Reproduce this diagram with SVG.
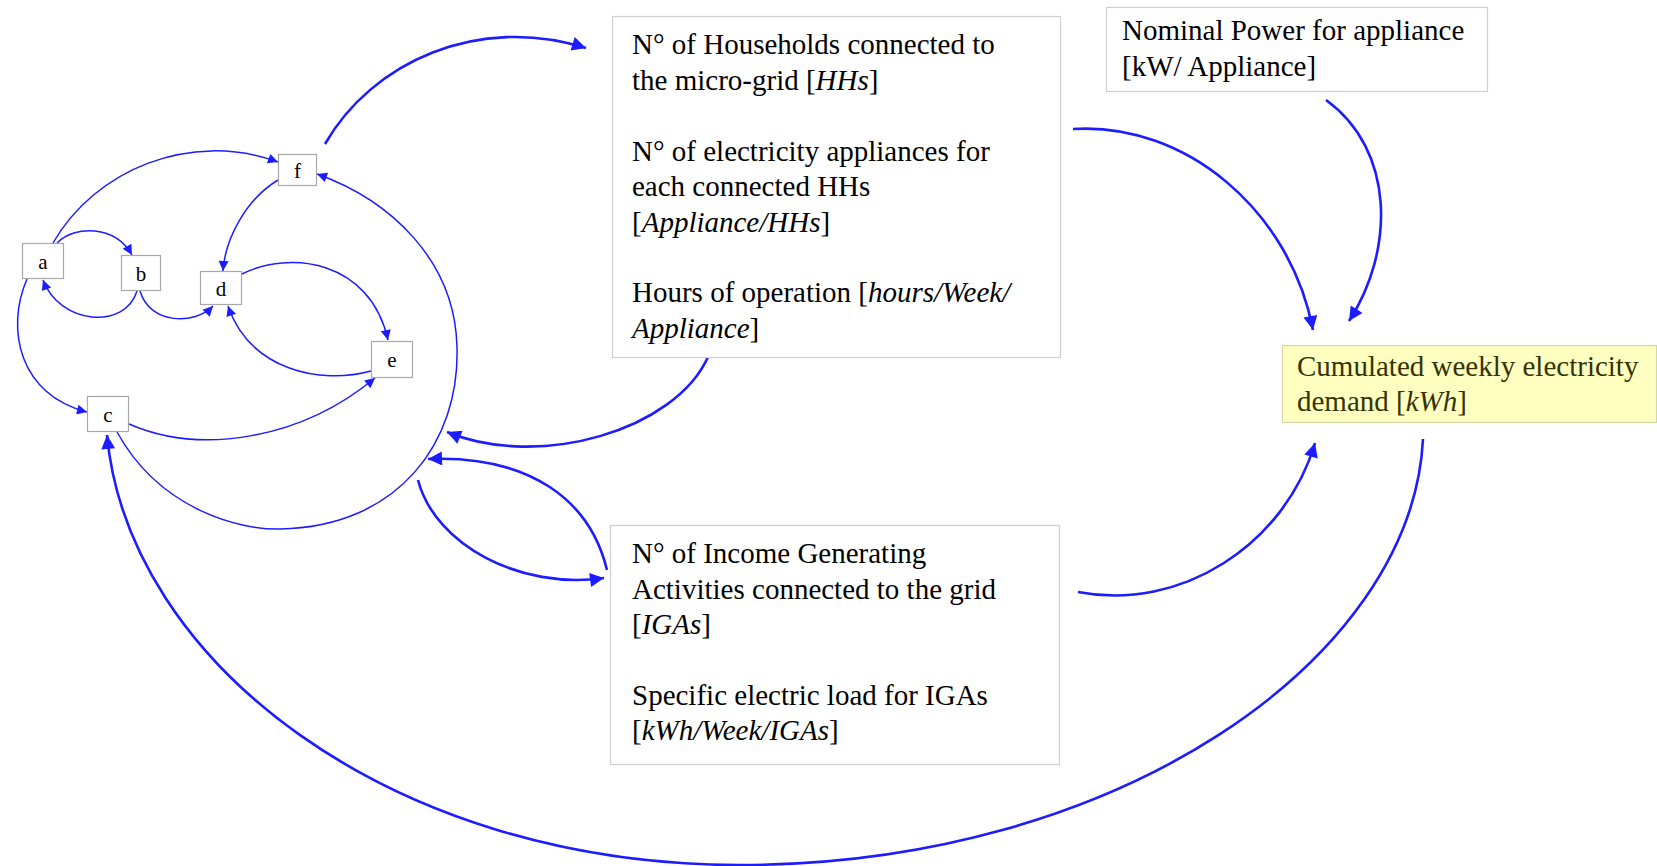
<svg xmlns="http://www.w3.org/2000/svg" width="1657" height="866" viewBox="0 0 1657 866">
<style>
.box{fill:#ffffff;stroke:#cfcfcf;stroke-width:1.2}
.sbox{fill:#ffffff;stroke:#a8a8a8;stroke-width:1.2}
.ybox{fill:#ffffc0;stroke:#d6d6a8;stroke-width:1.2}
.t{font-family:"Liberation Serif","Times New Roman",serif;font-size:29px;fill:#000}
.ty{font-family:"Liberation Serif","Times New Roman",serif;font-size:29px;fill:#333300}
.s{font-family:"Liberation Serif","Times New Roman",serif;font-size:21px;fill:#000;text-anchor:middle}
.i{font-style:italic}
.big{fill:none;stroke:#1c1cff;stroke-width:2.6;marker-end:url(#ab)}
.sm{fill:none;stroke:#1c1cff;stroke-width:1.5;marker-end:url(#as)}
</style>
<defs>
<marker id="ab" markerUnits="userSpaceOnUse" viewBox="0 0 10 10" refX="10" refY="5" markerWidth="17" markerHeight="14" orient="auto"><path d="M0,0 L10,5 L0,10 z" fill="#1c1cff"/></marker>
<marker id="as" markerUnits="userSpaceOnUse" viewBox="0 0 10 10" refX="10" refY="5" markerWidth="14" markerHeight="10" orient="auto"><path d="M0,0 L10,5 L0,10 z" fill="#1c1cff"/></marker>
</defs>
<rect width="1657" height="866" fill="#ffffff"/>
<g id="connectors">
<path class="big" d="M325,144 C372,62 478,14 586,48"/>
<path class="big" d="M1073,129 C1185,122 1290,210 1313,330"/>
<path class="big" d="M1326,100 C1395,150 1395,250 1349,321"/>
<path class="big" d="M1078,592 C1180,612 1285,545 1315,443"/>
<path class="big" d="M1423,439 C1412,660 1117,865 740,865 C390,865 128,662 107,435"/>
<path class="big" d="M708,357 C675,430 540,470 447,432"/>
<path class="big" d="M607,570 C590,500 530,455 428,459"/>
<path class="big" d="M418,480 C435,545 520,590 604,578"/>
<path class="sm" d="M53,243 C95,170 190,130 278,162"/>
<path class="sm" d="M57,243 C75,225 115,225 132,255"/>
<path class="sm" d="M137,291 C125,330 60,325 43,280"/>
<path class="sm" d="M140,291 C150,325 195,325 213,306"/>
<path class="sm" d="M278,180 C245,200 225,240 223,271"/>
<path class="sm" d="M242,274 C290,250 370,260 388,340"/>
<path class="sm" d="M371,371 C320,385 250,370 228,306"/>
<path class="sm" d="M27,279 C5,330 20,395 87,412"/>
<path class="sm" d="M129,424 C200,455 300,440 375,378"/>
<path class="sm" d="M117,432 C160,510 240,530 280,529 C400,527 460,440 457,347 C455,260 390,200 317,174"/>
</g>
<g id="node-households">
<rect class="box" x="612.5" y="16.5" width="448" height="341"/>
<text class="t" x="632" y="54">N° of Households connected to</text>
<text class="t" x="632" y="89.5">the micro-grid [<tspan class="i">HHs</tspan>]</text>
<text class="t" x="632" y="160.5">N° of electricity appliances for</text>
<text class="t" x="632" y="196">each connected HHs</text>
<text class="t" x="632" y="231.5">[<tspan class="i">Appliance/HHs</tspan>]</text>
<text class="t" x="632" y="302">Hours of operation [<tspan class="i">hours/Week/</tspan></text>
<text class="t" x="632" y="337.5"><tspan class="i">Appliance</tspan>]</text>
</g>
<g id="node-iga">
<rect class="box" x="610.5" y="525.5" width="449" height="239"/>
<text class="t" x="632" y="563">N° of Income Generating</text>
<text class="t" x="632" y="598.5">Activities connected to the grid</text>
<text class="t" x="632" y="634">[<tspan class="i">IGAs</tspan>]</text>
<text class="t" x="632" y="705">Specific electric load for IGAs</text>
<text class="t" x="632" y="740">[<tspan class="i">kWh/Week/IGAs</tspan>]</text>
</g>
<g id="node-nominal">
<rect class="box" x="1106.5" y="7.5" width="381" height="84"/>
<text class="t" x="1122" y="40">Nominal Power for appliance</text>
<text class="t" x="1122" y="76">[kW/ Appliance]</text>
</g>
<g id="node-cumulated">
<rect class="ybox" x="1282.5" y="345.5" width="374" height="77"/>
<text class="ty" x="1297" y="376">Cumulated weekly electricity</text>
<text class="ty" x="1297" y="411">demand [<tspan class="i">kWh</tspan>]</text>
</g>
<g id="node-a"><rect class="sbox" x="22.5" y="243.5" width="41" height="35"/><text class="s" x="43" y="268.5">a</text></g>
<g id="node-b"><rect class="sbox" x="121.5" y="255.5" width="39" height="35"/><text class="s" x="141" y="280.5">b</text></g>
<g id="node-d"><rect class="sbox" x="200.5" y="271.5" width="41" height="33"/><text class="s" x="221" y="295.5">d</text></g>
<g id="node-e"><rect class="sbox" x="371.5" y="341.5" width="41" height="36"/><text class="s" x="392" y="367">e</text></g>
<g id="node-c"><rect class="sbox" x="87.5" y="396.5" width="41" height="35"/><text class="s" x="108" y="421.5">c</text></g>
<g id="node-f"><rect class="sbox" x="278.5" y="154.5" width="38" height="31"/><text class="s" x="297.5" y="177.5">f</text></g>
</svg>
